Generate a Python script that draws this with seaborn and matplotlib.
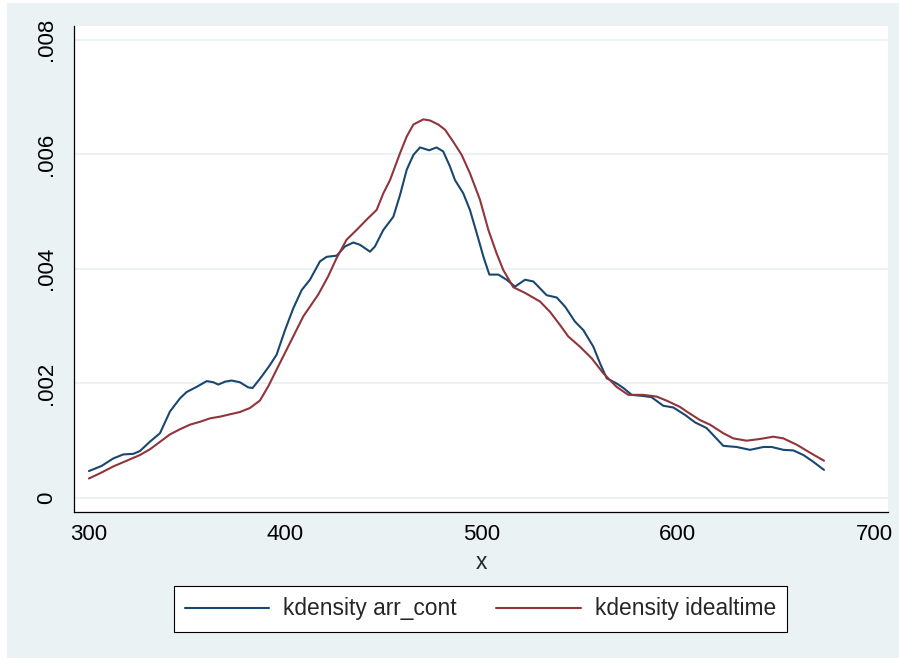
import matplotlib
matplotlib.use("Agg")
import matplotlib.pyplot as plt
from matplotlib.patches import Rectangle
import pandas as pd
import seaborn as sns

# Kernel density estimates (x, density) for the two variables
arr_cont_x = [300, 306.5, 312.4, 317.5, 322.6, 326, 331, 336.2, 341.3, 346.4,
              349.8, 354.9, 360, 363.4, 365.9, 369.3, 372.7, 376.9, 381.2, 383.4,
              388, 392.2, 395.6, 399.9, 404.1, 408.4, 412.6, 417.7, 421.1, 426.2,
              430.4, 434.7, 438.1, 443.2, 445.7, 450, 455.1, 458.5, 461.9, 465.3,
              468.7, 473.4, 477.1, 480.5, 483.9, 486.5, 490.7, 494.1, 497.6, 501,
              504, 508.6, 512.8, 517.1, 522.2, 526.4, 533.2, 538.3, 542.6, 547.6,
              551.9, 557, 560.4, 563.8, 568.8, 572.3, 576.5, 582.4, 586.6, 592.6,
              597.7, 603.7, 608.8, 614.7, 623.2, 630, 636.8, 643.6, 647.9, 653.8,
              658.9, 664, 669.1, 674.5]
arr_cont_density = [0.00047, 0.00056, 0.00069, 0.00076, 0.00077, 0.00082, 0.00098, 0.00113, 0.00151, 0.00174,
                     0.00185, 0.00194, 0.00204, 0.00202, 0.00198, 0.00203, 0.00205, 0.00202, 0.00193, 0.00192,
                     0.00212, 0.00232, 0.0025, 0.00293, 0.00331, 0.00363, 0.00381, 0.00413, 0.00421, 0.00423,
                     0.00439, 0.00446, 0.00442, 0.0043, 0.00439, 0.00468, 0.00491, 0.00529, 0.00573, 0.00599,
                     0.00612, 0.00607, 0.00612, 0.00605, 0.00579, 0.00555, 0.00532, 0.00503, 0.00462, 0.00421,
                     0.0039, 0.0039, 0.00381, 0.00369, 0.00381, 0.00378, 0.00354, 0.0035, 0.00334, 0.00308,
                     0.00293, 0.00264, 0.00235, 0.00209, 0.002, 0.00192, 0.0018, 0.00178, 0.00176, 0.00161,
                     0.00158, 0.00145, 0.00132, 0.00122, 0.00091, 0.00089, 0.00084, 0.00089, 0.00089, 0.00084,
                     0.00083, 0.00075, 0.00063, 0.00049]

idealtime_x = [300, 305.6, 312.4, 319.2, 326, 331.1, 336.2, 341.3, 346.4, 351.5,
               356.6, 361.7, 366.8, 371.8, 376.9, 382, 387.1, 391.4, 395.6, 404.1,
               409.2, 416.8, 421.9, 426.2, 431.3, 436.4, 441.5, 446.6, 450, 453.4,
               458.5, 461.9, 465.3, 470.4, 473.8, 478, 481.4, 485.6, 489.9, 494.1,
               499.2, 503.5, 507.7, 511.1, 516.2, 522.2, 529.8, 534.9, 540, 544.2,
               550.2, 556.1, 562, 568.8, 574.8, 582.4, 589.2, 594.3, 601.1, 604.5,
               611.3, 616.4, 623.2, 628.3, 635.1, 641.9, 648.7, 653.8, 660.6, 667.4,
               674.5]
idealtime_density = [0.00034, 0.00043, 0.00055, 0.00065, 0.00075, 0.00085, 0.00098, 0.00111, 0.0012, 0.00128,
                     0.00133, 0.00139, 0.00142, 0.00146, 0.0015, 0.00157, 0.0017, 0.00195, 0.00224, 0.00282,
                     0.00317, 0.00355, 0.00387, 0.00419, 0.00451, 0.00468, 0.00486, 0.00503, 0.00532, 0.00555,
                     0.00602, 0.00631, 0.00652, 0.00661, 0.00659, 0.00652, 0.00643, 0.00622, 0.00599, 0.00567,
                     0.00521, 0.00468, 0.00427, 0.00398, 0.00368, 0.00358, 0.00343, 0.00325, 0.00302, 0.00282,
                     0.00264, 0.00244, 0.00218, 0.00194, 0.0018, 0.0018, 0.00177, 0.0017, 0.00159, 0.00151,
                     0.00136, 0.00128, 0.00113, 0.00104, 0.001, 0.00103, 0.00107, 0.00104, 0.00093, 0.00079,
                     0.00065]

series_labels = ["kdensity arr_cont", "kdensity idealtime"]
x_ticks = [300, 400, 500, 600, 700]
y_ticks = [0, 0.002, 0.004, 0.006, 0.008]
y_tick_labels = ["0", ".002", ".004", ".006", ".008"]
x_title = "x"

sns.set_style("white")
plt.rcParams["font.family"] = ["Liberation Sans", "DejaVu Sans"]

BG = "#EAF2F3"
NAVY = "#1A476F"
MAROON = "#90353B"
W, H = 899, 658

fig = plt.figure(figsize=(W / 100, H / 100), dpi=100, facecolor="white")
fig.patches.append(Rectangle((7 / W, 0), 1, 1 - 3 / H, transform=fig.transFigure,
                             facecolor=BG, edgecolor="none", zorder=-10))
ax = fig.add_axes([74 / W, 146 / H, 814 / W, 486 / H])
ax.set_facecolor("white")

df_a = pd.DataFrame({"x": arr_cont_x, "density": arr_cont_density})
df_b = pd.DataFrame({"x": idealtime_x, "density": idealtime_density})
sns.lineplot(data=df_a, x="x", y="density", color=NAVY, linewidth=1.5,
             estimator=None, label=series_labels[0], ax=ax, legend=False)
sns.lineplot(data=df_b, x="x", y="density", color=MAROON, linewidth=1.5,
             estimator=None, label=series_labels[1], ax=ax, legend=False)

ax.set_xlim(292.4, 707.1)
ax.set_ylim(-0.000245, 0.00824)
ax.set_xticks(x_ticks)
ax.set_xticklabels([str(t) for t in x_ticks])
ax.set_yticks(y_ticks)
ax.set_yticklabels(y_tick_labels, rotation=90, va="center")

ax.set_axisbelow(True)
ax.yaxis.grid(True, color=BG, linewidth=1.5)
ax.xaxis.grid(False)

for side in ("top", "right"):
    ax.spines[side].set_visible(False)
for side in ("left", "bottom"):
    ax.spines[side].set_color("black")
    ax.spines[side].set_linewidth(0.9)

ax.tick_params(axis="both", direction="out", length=6.5, width=0.9, color="black",
               labelsize=16, labelcolor="black")
ax.tick_params(axis="y", pad=6)
ax.tick_params(axis="x", pad=2)
ax.set_xlabel(x_title, fontsize=16.4, labelpad=4.5)
ax.set_ylabel("")

handles, labels = ax.get_legend_handles_labels()
leg = fig.legend(handles, labels, loc="center",
                 bbox_to_anchor=(480.5 / W, 1 - 609 / H),
                 ncol=2, frameon=True, fancybox=False, edgecolor="black", framealpha=1,
                 borderpad=0.5, handlelength=3.7, handletextpad=0.62, columnspacing=1.72,
                 fontsize=16.4, borderaxespad=0)
leg.get_frame().set_linewidth(0.8)

fig.savefig("out.png", dpi=100, facecolor=fig.get_facecolor())
